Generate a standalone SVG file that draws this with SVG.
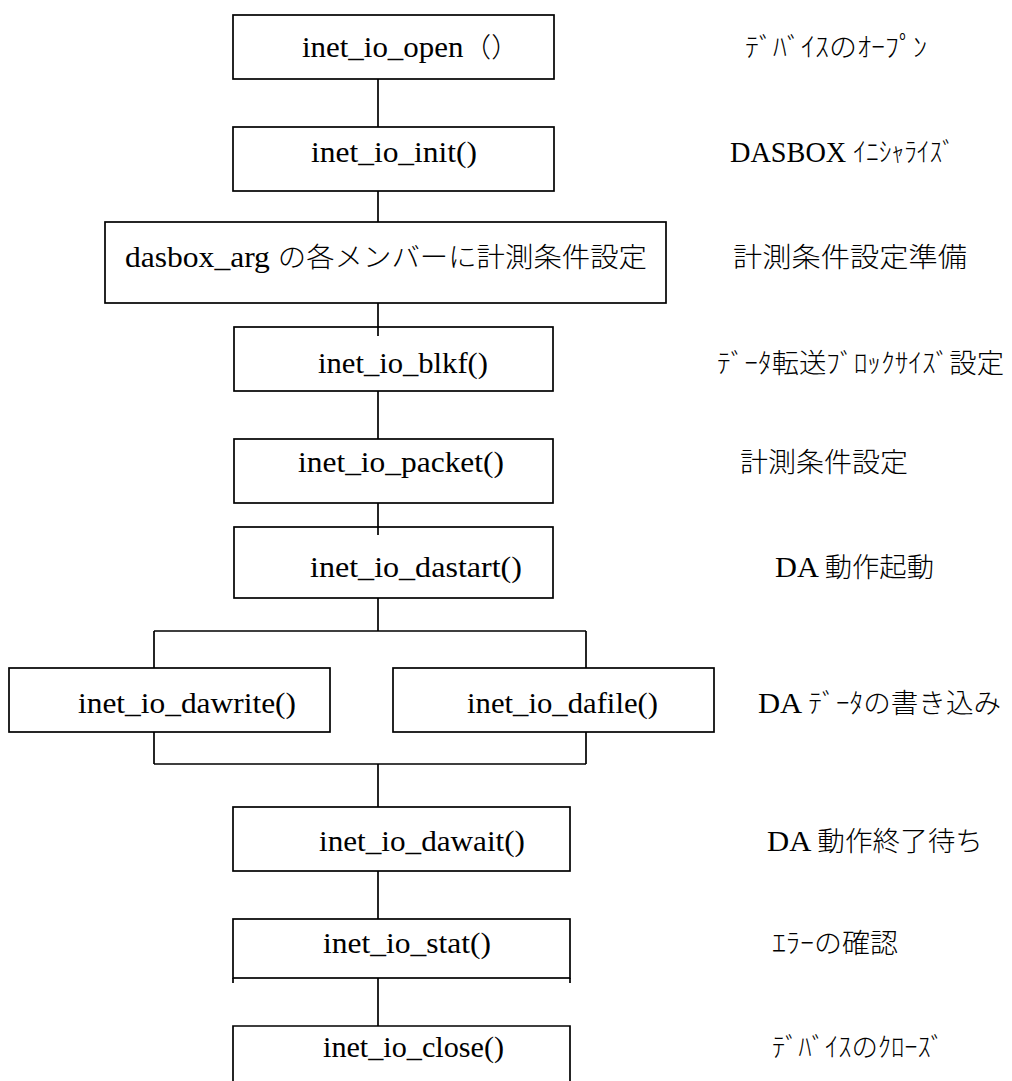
<svg xmlns="http://www.w3.org/2000/svg" width="1012" height="1081" viewBox="0 0 1012 1081">
<style>
.box{fill:#fff;stroke:#000;stroke-width:1.7}
.ln{fill:none;stroke:#000;stroke-width:1.7}
.t{font-family:"Liberation Serif","Noto Sans CJK JP",serif;font-size:30px;fill:#000}
.j{font-family:"Noto Sans CJK JP",sans-serif;font-size:27px;font-weight:300;fill:#000}
</style>
<rect width="1012" height="1081" fill="#fff"/>
<g id="n_open">
<rect class="box" x="233" y="15" width="321" height="64"/>
<text class="t" x="302" y="57" textLength="217" lengthAdjust="spacingAndGlyphs">inet_io_open<tspan class="j">（）</tspan></text>
</g>
<g id="n_init">
<rect class="box" x="233" y="127" width="321" height="64"/>
<text class="t" x="311" y="162" textLength="166" lengthAdjust="spacingAndGlyphs">inet_io_init()</text>
</g>
<g id="n_arg">
<rect class="box" x="105" y="222" width="561" height="81"/>
<text class="t" x="125" y="267" textLength="522" lengthAdjust="spacingAndGlyphs">dasbox_arg <tspan class="j">の各メンバーに計測条件設定</tspan></text>
</g>
<g id="n_blkf">
<rect class="box" x="234" y="327" width="319" height="64"/>
<text class="t" x="318" y="373" textLength="170" lengthAdjust="spacingAndGlyphs">inet_io_blkf()</text>
</g>
<g id="n_packet">
<rect class="box" x="234" y="439" width="319" height="64"/>
<text class="t" x="298" y="472" textLength="206" lengthAdjust="spacingAndGlyphs">inet_io_packet()</text>
</g>
<g id="n_dastart">
<rect class="box" x="234" y="527" width="319" height="71"/>
<text class="t" x="310" y="577" textLength="212" lengthAdjust="spacingAndGlyphs">inet_io_dastart()</text>
</g>
<g id="n_dawrite">
<rect class="box" x="9" y="668" width="321" height="64"/>
<text class="t" x="78" y="713" textLength="218" lengthAdjust="spacingAndGlyphs">inet_io_dawrite()</text>
</g>
<g id="n_dafile">
<rect class="box" x="393" y="668" width="321" height="64"/>
<text class="t" x="467" y="713" textLength="191" lengthAdjust="spacingAndGlyphs">inet_io_dafile()</text>
</g>
<g id="n_dawait">
<rect class="box" x="233" y="807" width="337" height="64"/>
<text class="t" x="319" y="851" textLength="206" lengthAdjust="spacingAndGlyphs">inet_io_dawait()</text>
</g>
<g id="n_stat">
<rect class="box" x="233" y="919" width="337" height="59"/>
<path class="ln" d="M233,978V983M570,978V983"/>
<text class="t" x="323" y="953" textLength="168" lengthAdjust="spacingAndGlyphs">inet_io_stat()</text>
</g>
<g id="n_close">
<path class="box" d="M233,1081V1026H570V1081"/>
<text class="t" x="323" y="1057" textLength="181" lengthAdjust="spacingAndGlyphs">inet_io_close()</text>
</g>
<g id="connectors">
<path class="ln" d="M378,79V127M378,191V222M378,303V336M378,391V439M378,503V535M378,598V631M154,631H586M154,631V668M586,631V668M154,732V764M586,732V764M154,764H586M378,764V807M378,871V919M378,978V1026"/>
</g>
<g id="labels">
<text class="j" x="745" y="57" textLength="182" lengthAdjust="spacingAndGlyphs">ﾃﾞﾊﾞｲｽのｵｰﾌﾟﾝ</text>
<text class="t" x="730" y="162" textLength="225" lengthAdjust="spacingAndGlyphs">DASBOX <tspan class="j">ｲﾆｼｬﾗｲｽﾞ</tspan></text>
<text class="j" x="733" y="267" textLength="234" lengthAdjust="spacingAndGlyphs">計測条件設定準備</text>
<text class="j" x="717" y="373" textLength="287" lengthAdjust="spacingAndGlyphs">ﾃﾞｰﾀ転送ﾌﾞﾛｯｸｻｲｽﾞ設定</text>
<text class="j" x="740" y="472" textLength="168" lengthAdjust="spacingAndGlyphs">計測条件設定</text>
<text class="t" x="775" y="577" textLength="159" lengthAdjust="spacingAndGlyphs">DA <tspan class="j">動作起動</tspan></text>
<text class="t" x="758" y="713" textLength="243" lengthAdjust="spacingAndGlyphs">DA <tspan class="j">ﾃﾞｰﾀの書き込み</tspan></text>
<text class="t" x="767" y="851" textLength="216" lengthAdjust="spacingAndGlyphs">DA <tspan class="j">動作終了待ち</tspan></text>
<text class="j" x="772" y="953" textLength="126" lengthAdjust="spacingAndGlyphs">ｴﾗｰの確認</text>
<text class="j" x="772" y="1057" textLength="172" lengthAdjust="spacingAndGlyphs">ﾃﾞﾊﾞｲｽのｸﾛｰｽﾞ</text>
</g>
</svg>
